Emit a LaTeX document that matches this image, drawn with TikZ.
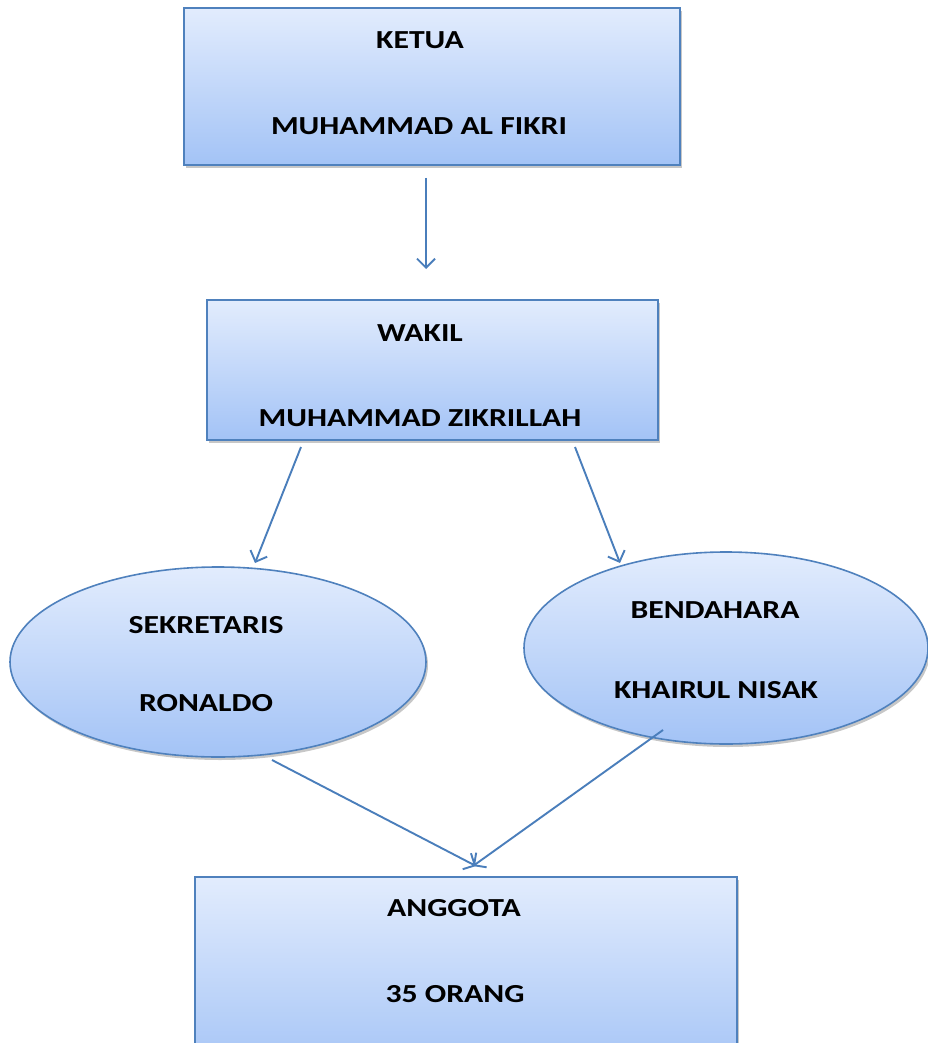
\documentclass[tikz,border=0pt]{standalone}
\usepackage{fontspec}
\setmainfont{Carlito}
\usetikzlibrary{arrows.meta,shapes.geometric,shadows}
\definecolor{topblue}{RGB}{226,236,253}
\definecolor{botblue}{RGB}{163,195,246}
\definecolor{edgeblue}{RGB}{79,129,189}
\definecolor{arrowblue}{RGB}{74,126,187}
\tikzset{
  shapebase/.style={draw=edgeblue, line width=1.6pt, top color=topblue, bottom color=botblue,
    inner sep=0pt, outer sep=0pt,
    drop shadow={shadow xshift=2pt, shadow yshift=-3pt, fill=black, opacity=0.22}},
  rectbox/.style={shapebase, rectangle},
  ellbox/.style={shapebase, ellipse},
  label/.style={font=\bfseries\fontsize{26}{30}\selectfont, text=black, inner sep=0pt, xscale=1.22},
  conn/.style={draw=arrowblue, line width=1.9pt, -{Straight Barb[length=9pt,width=18pt,line width=1.9pt]}}
}
\begin{document}
\begin{tikzpicture}[x=1pt,y=-1pt]
\useasboundingbox (0,0) rectangle (928,1043);
\clip (0,0) rectangle (928,1043);
\fill[white] (0,0) rectangle (928,1043);

% boxes
\node[rectbox, minimum width=496pt, minimum height=157pt] (ketua) at (432,86.5) {};
\node[rectbox, minimum width=451pt, minimum height=140pt] (wakil) at (432.5,370) {};
\node[ellbox, minimum width=416pt, minimum height=190pt] (sek) at (218,662) {};
\node[ellbox, minimum width=404pt, minimum height=192pt] (ben) at (726,648) {};
\node[rectbox, minimum width=542pt, minimum height=200pt] (agt) at (466,977) {};

% texts
\node[label] (t1) at (420,40) {KETUA};
\node[label] (t2) at (419,126) {MUHAMMAD AL FIKRI};
\node[label] (t3) at (420,333) {WAKIL};
\node[label] (t4) at (420,418) {MUHAMMAD ZIKRILLAH};
\node[label] (t5) at (206,625) {SEKRETARIS};
\node[label] (t6) at (206,703) {RONALDO};
\node[label] (t7) at (715,610) {BENDAHARA};
\node[label] (t8) at (716,690) {KHAIRUL NISAK};
\node[label] (t9) at (454,908) {ANGGOTA};
\node[label] (t10) at (455,994) {35 ORANG};

% connector end points
\coordinate (a1s) at (426,178);
\coordinate (a1e) at (426,269);
\coordinate (a2s) at (301,447);
\coordinate (a2e) at (255,563);
\coordinate (a3s) at (575,447);
\coordinate (a3e) at (620,563);
\coordinate (a4s) at (272,760);
\coordinate (a4e) at (476,866);
\coordinate (a5s) at (663,730);
\coordinate (a5e) at (473,866);

\draw[conn] (a1s) -- (a1e);
\draw[conn] (a2s) -- (a2e);
\draw[conn] (a3s) -- (a3e);
\draw[conn] (a4s) -- (a4e);
\draw[conn] (a5s) -- (a5e);
\end{tikzpicture}
\end{document}
